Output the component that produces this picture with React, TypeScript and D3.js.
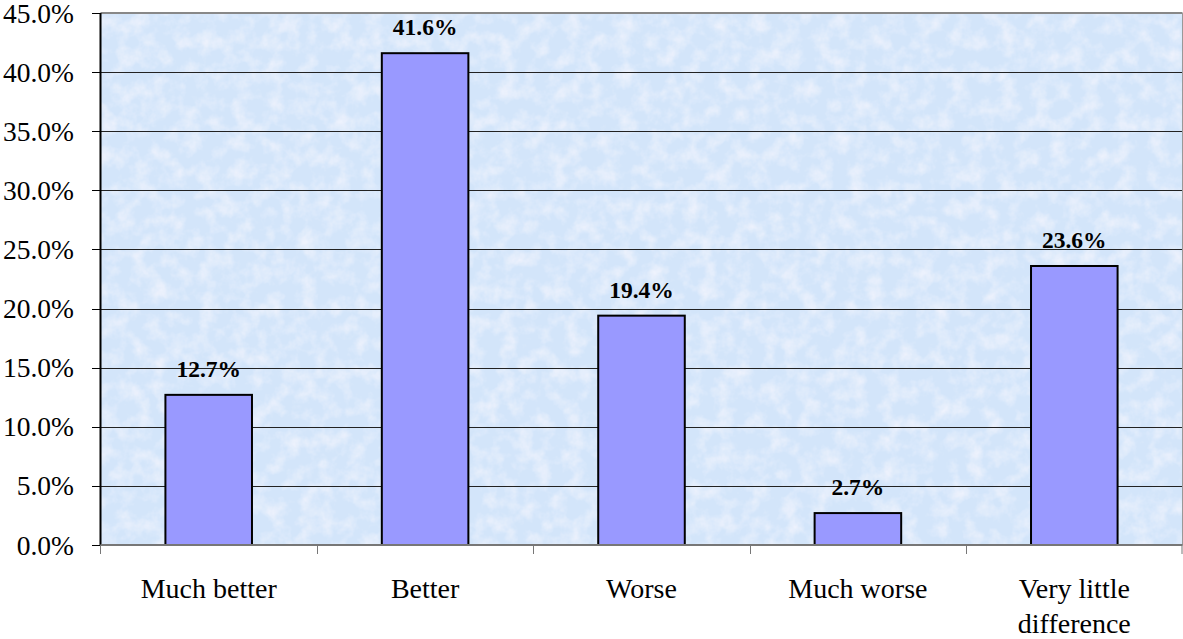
import React from "react";
import * as d3 from "d3";

const categories = [["Much better"], ["Better"], ["Worse"], ["Much worse"], ["Very little", "difference"]];
const values = [12.7, 41.6, 19.4, 2.7, 23.6];
const yTicks = [0, 5, 10, 15, 20, 25, 30, 35, 40, 45];

const W = 1183;
const H = 639;
const left = 100.5;
const right = 1182.5;
const top = 13;
const bottom = 545;

export default function App() {
  const keys = categories.map((c) => c.join(" "));
  const x = d3.scaleBand<string>().domain(keys).range([left, right]).paddingInner(0.6).paddingOuter(0.3);
  const y = d3.scaleLinear().domain([0, 45]).range([bottom, top]);
  const step = x.step();
  const font = "Liberation Serif";

  return (
    <svg width={W} height={H} style={{ position: "absolute", left: 0, top: 0, background: "#fff", fontFamily: font }}>
      <defs>
        <filter id="tex" x="0" y="0" width="100%" height="100%">
          <feTurbulence type="fractalNoise" baseFrequency="0.06" numOctaves="4" seed="7" result="n" />
          <feColorMatrix
            in="n"
            type="matrix"
            values="0 0 0 0 1  0 0 0 0 0.97  0 0 0 0 1  0 0 0 1.1 -0.45"
            result="w"
          />
          <feComposite in="w" in2="SourceGraphic" operator="over" />
        </filter>
      </defs>
      <rect x={left} y={top} width={right - left} height={bottom - top} fill="#d3e5fa" filter="url(#tex)" />
      {yTicks.slice(1, -1).map((t) => (
        <line key={t} x1={left} x2={right} y1={Math.round(y(t)) + 0.5} y2={Math.round(y(t)) + 0.5} stroke="#222" strokeWidth={1} />
      ))}
      <line x1={left} x2={right} y1={top} y2={top} stroke="#888" strokeWidth={2} />
      <line x1={right} x2={right} y1={top} y2={bottom} stroke="#999" strokeWidth={1} />
      {values.map((v, i) => (
        <rect
          key={keys[i]}
          x={x(keys[i])!}
          y={y(v)}
          width={x.bandwidth()}
          height={bottom - y(v)}
          fill="#9999ff"
          stroke="#000"
          strokeWidth={2}
        />
      ))}
      {values.map((v, i) => (
        <text
          key={"l" + i}
          x={x(keys[i])! + x.bandwidth() / 2}
          y={y(v) - 18}
          textAnchor="middle"
          fontFamily={font}
          fontWeight="bold"
          fontSize={23.5}
          fill="#000"
        >
          {v.toFixed(1) + "%"}
        </text>
      ))}
      <line x1={left} x2={left} y1={top} y2={bottom} stroke="#000" strokeWidth={2} />
      <line x1={left} x2={right} y1={bottom} y2={bottom} stroke="#777" strokeWidth={2} />
      {yTicks.map((t) => (
        <g key={"yt" + t}>
          <line x1={92} x2={left} y1={Math.round(y(t)) + 0.5} y2={Math.round(y(t)) + 0.5} stroke="#000" strokeWidth={1} />
          <text x={74} y={y(t) + 9.5} textAnchor="end" fontFamily={font} fontSize={27.5} fill="#000">
            {t.toFixed(1) + "%"}
          </text>
        </g>
      ))}
      {keys.map((k, i) => (
        <line
          key={"xt" + i}
          x1={Math.round(x(k)! - step * 0.3) + 0.5}
          x2={Math.round(x(k)! - step * 0.3) + 0.5}
          y1={bottom}
          y2={bottom + 9}
          stroke="#777"
          strokeWidth={1}
        />
      ))}
      <line x1={right - 0.5} x2={right - 0.5} y1={bottom} y2={bottom + 9} stroke="#777" strokeWidth={1} />
      {categories.map((lines, i) => (
        <text
          key={"c" + i}
          x={x(keys[i])! + x.bandwidth() / 2}
          y={598}
          textAnchor="middle"
          fontFamily={font}
          fontSize={28}
          fill="#000"
        >
          {lines.map((ln, j) => (
            <tspan key={j} x={x(keys[i])! + x.bandwidth() / 2} dy={j === 0 ? 0 : 35}>
              {ln}
            </tspan>
          ))}
        </text>
      ))}
    </svg>
  );
}
